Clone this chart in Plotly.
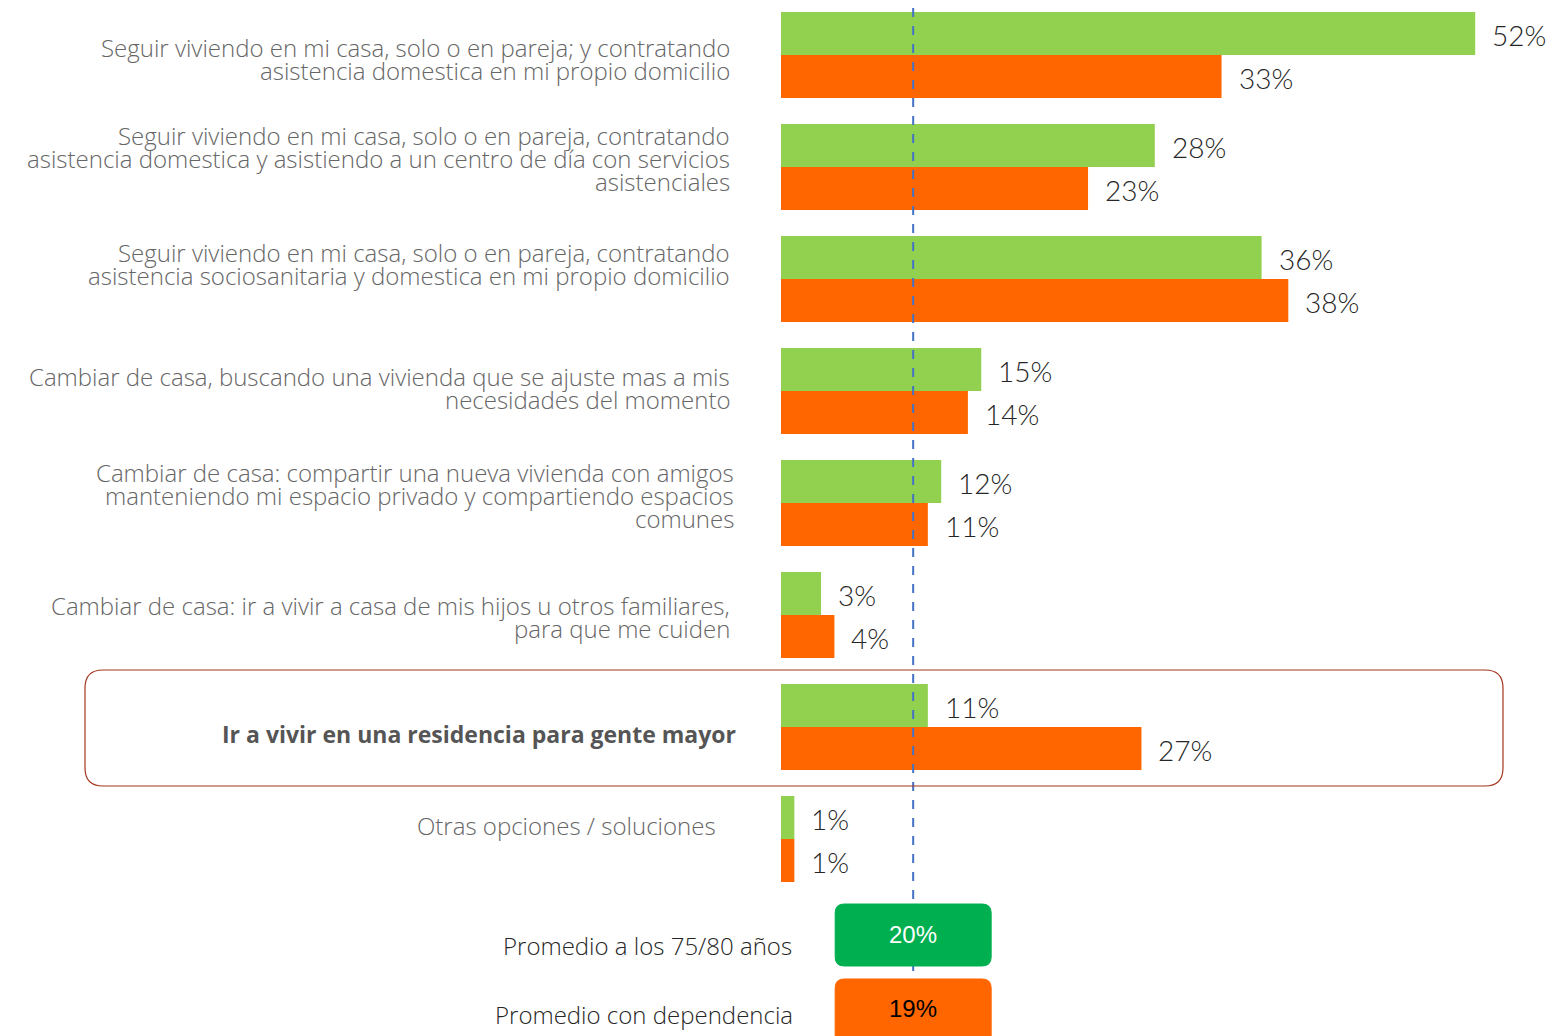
import plotly.graph_objects as go

# ---------------- data ----------------
categories = [
    ["Seguir viviendo en mi casa, solo o en pareja; y contratando",
     "asistencia domestica en mi propio domicilio"],
    ["Seguir viviendo en mi casa, solo o en pareja, contratando",
     "asistencia domestica y asistiendo a un centro de día con servicios",
     "asistenciales"],
    ["Seguir viviendo en mi casa, solo o en pareja, contratando",
     "asistencia sociosanitaria y domestica en mi propio domicilio"],
    ["Cambiar de casa, buscando una vivienda que se ajuste mas a mis",
     "necesidades del momento"],
    ["Cambiar de casa: compartir una nueva vivienda con amigos",
     "manteniendo mi espacio privado y compartiendo espacios",
     "comunes"],
    ["Cambiar de casa: ir a vivir a casa de mis hijos u otros familiares,",
     "para que me cuiden"],
    ["Ir a vivir en una residencia para gente mayor"],
    ["Otras opciones / soluciones"],
]
green_values = [52, 28, 36, 15, 12, 3, 11, 1]
orange_values = [33, 23, 38, 14, 11, 4, 27, 1]
avg_labels = ["Promedio a los 75/80 años", "Promedio con dependencia"]
avg_values = [20, 19]
ref_line_value = 9.9
highlight_index = 6

# ---------------- layout helpers ----------------
W, H = 1553, 1036
PX_PER_UNIT = 13.35
X0 = 781
row0, row_step = 55, 112

def px(x):
    return x / W

def py(y):
    return 1 - y / H

# label placement: (right edge px, center y px)
label_pos = [(732, 59), (732, 158), (732, 264), (732, 388),
             (736, 495), (732, 617), (738, 734), (718, 825)]
LINE_H = 23

GREEN = "#92D050"
ORANGE = "#FF6600"
FONT = "Open Sans"
VFONT = "Lato"

n = len(categories)
yidx = list(range(n))
y_top = -row0 / row_step
y_bot = (H - row0) / row_step

fig = go.Figure()
fig.add_trace(go.Bar(y=yidx, x=green_values, orientation="h", name="75/80",
                     marker=dict(color=GREEN, line=dict(width=0)), showlegend=False,
                     hoverinfo="x"))
fig.add_trace(go.Bar(y=yidx, x=orange_values, orientation="h", name="dependencia",
                     marker=dict(color=ORANGE, line=dict(width=0)), showlegend=False,
                     hoverinfo="x"))

annotations = []
# value labels
for i in range(n):
    for k, vals in enumerate([green_values, orange_values]):
        annotations.append(dict(
            x=vals[i], y=i - 0.192 + 0.384 * k, xref="x", yref="y",
            text=f"{vals[i]}%", showarrow=False, xanchor="left", yanchor="middle",
            xshift=15, yshift=-1,
            font=dict(family=VFONT, size=28, color="#262626", weight=300)))

# category labels, one line at a time
for i, lines in enumerate(categories):
    rx, cy = label_pos[i]
    nl = len(lines)
    for j, line in enumerate(lines):
        ly = cy + (j - (nl - 1) / 2) * LINE_H
        bold = i == highlight_index
        annotations.append(dict(
            x=px(rx), y=py(ly), xref="paper", yref="paper",
            text=f"<b>{line}</b>" if bold else line, showarrow=False,
            xanchor="right", yanchor="middle",
            font=dict(family=FONT, size=23 if bold else 24, weight=700 if bold else 300,
                      color="#555555" if bold else "#666666")))

# average labels + boxes
avg_pos = [(794, 945, 934), (795, 1014, 1008)]
avg_colors = ["#00B050", ORANGE]
avg_text_colors = ["white", "black"]
box_rows = [(904, 966), (979, 1046)]
for k in range(2):
    rx, cy, by = avg_pos[k]
    annotations.append(dict(
        x=px(rx), y=py(cy), xref="paper", yref="paper", text=avg_labels[k],
        showarrow=False, xanchor="right", yanchor="middle",
        font=dict(family=FONT, size=24, weight=300, color="#262626")))

shapes = []
# dashed reference line
shapes.append(dict(type="line", xref="x", yref="paper", x0=ref_line_value, x1=ref_line_value,
                   y0=py(8), y1=py(988), line=dict(color="#4472C4", width=2, dash="dash")))


def rounded(x0, y0, x1, y1, r):
    pts = [
        ("M", (x0 + r, y0)), ("L", (x1 - r, y0)), ("Q", (x1, y0), (x1, y0 + r)),
        ("L", (x1, y1 - r)), ("Q", (x1, y1), (x1 - r, y1)),
        ("L", (x0 + r, y1)), ("Q", (x0, y1), (x0, y1 - r)),
        ("L", (x0, y0 + r)), ("Q", (x0, y0), (x0 + r, y0)),
    ]
    out = []
    for p in pts:
        cmd = p[0]
        coords = " ".join(f"{px(a):.5f},{py(b):.5f}" for a, b in p[1:])
        out.append(f"{cmd} {coords}")
    return " ".join(out) + " Z"

# highlight box
shapes.append(dict(type="path", xref="paper", yref="paper",
                   path=rounded(85, 670, 1503, 786, 18),
                   line=dict(color="#A5361E", width=1.2), fillcolor="rgba(0,0,0,0)"))

# average boxes, centred on the reference line
for k in range(2):
    y0, y1 = box_rows[k]
    cx = X0 + ref_line_value * PX_PER_UNIT
    shapes.append(dict(type="path", xref="paper", yref="paper",
                       path=rounded(cx - 78, y0, cx + 78, y1, 9),
                       line=dict(color=avg_colors[k], width=1), fillcolor=avg_colors[k]))
    annotations.append(dict(
        x=ref_line_value, y=py(avg_pos[k][2]), xref="x", yref="paper",
        text=f"{avg_values[k]}%", showarrow=False, xanchor="center", yanchor="middle",
        font=dict(family="Liberation Sans, Arial", size=24, color=avg_text_colors[k])))

plot_w = W - X0
fig.update_layout(
    width=W, height=H,
    margin=dict(l=0, r=0, t=0, b=0),
    paper_bgcolor="white", plot_bgcolor="white",
    barmode="group", bargap=0.232, bargroupgap=0,
    xaxis=dict(domain=[X0 / W, 1], range=[0, plot_w / PX_PER_UNIT], visible=False,
               fixedrange=True),
    yaxis=dict(domain=[0, 1], range=[y_bot, y_top], visible=False, fixedrange=True),
    annotations=annotations,
    shapes=shapes,
    showlegend=False,
)

fig.write_html("out.html", config={"displayModeBar": False},
               post_script="document.body.style.margin='0';")
